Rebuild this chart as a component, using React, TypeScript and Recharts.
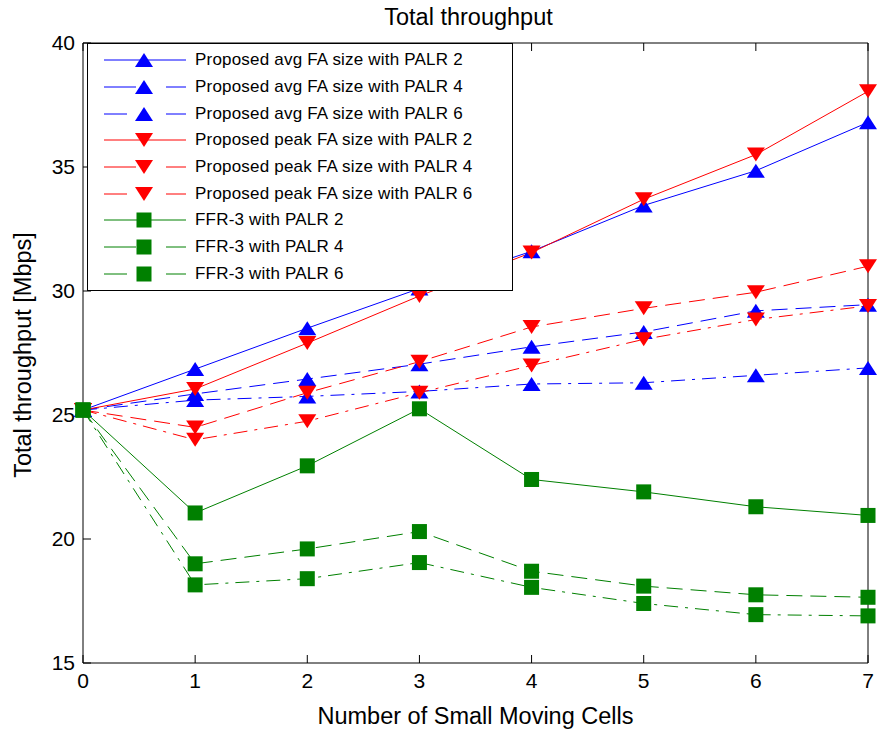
import React from 'react';
import { LineChart, Line, XAxis, YAxis, Legend } from 'recharts';

const xValues = [0, 1, 2, 3, 4, 5, 6, 7];
const xTicks = [0, 1, 2, 3, 4, 5, 6, 7];
const yTicks = [15, 20, 25, 30, 35, 40];

const avgPalr2 = [25.2, 26.85, 28.5, 30.1, 31.6, 33.45, 34.85, 36.8];
const avgPalr4 = [25.2, 25.85, 26.45, 27.05, 27.75, 28.35, 29.2, 29.45];
const avgPalr6 = [25.2, 25.6, 25.75, 25.95, 26.25, 26.3, 26.6, 26.9];
const peakPalr2 = [25.2, 26.05, 27.9, 29.8, 31.55, 33.7, 35.5, 38.05];
const peakPalr4 = [25.2, 24.5, 25.9, 27.15, 28.55, 29.3, 29.95, 31.0];
const peakPalr6 = [25.2, 24.0, 24.75, 25.9, 27.0, 28.05, 28.85, 29.4];
const ffrPalr2 = [25.2, 21.05, 22.95, 25.25, 22.4, 21.9, 21.3, 20.95];
const ffrPalr4 = [25.2, 19.0, 19.6, 20.3, 18.7, 18.1, 17.75, 17.65];
const ffrPalr6 = [25.2, 18.15, 18.4, 19.05, 18.05, 17.4, 16.95, 16.9];

const BLUE = '#0000ff';
const RED = '#ff0000';
const GREEN = '#008000';

type Shape = 'up' | 'down' | 'square';
type Dash = 'solid' | 'dash' | 'dashdot';

const series: { key: string; name: string; values: number[]; color: string; shape: Shape; dash: Dash }[] = [
  { key: 'avg2', name: 'Proposed avg FA size with PALR 2', values: avgPalr2, color: BLUE, shape: 'up', dash: 'solid' },
  { key: 'avg4', name: 'Proposed avg FA size with PALR 4', values: avgPalr4, color: BLUE, shape: 'up', dash: 'dash' },
  { key: 'avg6', name: 'Proposed avg FA size with PALR 6', values: avgPalr6, color: BLUE, shape: 'up', dash: 'dashdot' },
  { key: 'peak2', name: 'Proposed peak FA size with PALR 2', values: peakPalr2, color: RED, shape: 'down', dash: 'solid' },
  { key: 'peak4', name: 'Proposed peak FA size with PALR 4', values: peakPalr4, color: RED, shape: 'down', dash: 'dash' },
  { key: 'peak6', name: 'Proposed peak FA size with PALR 6', values: peakPalr6, color: RED, shape: 'down', dash: 'dashdot' },
  { key: 'ffr2', name: 'FFR-3 with PALR 2', values: ffrPalr2, color: GREEN, shape: 'square', dash: 'solid' },
  { key: 'ffr4', name: 'FFR-3 with PALR 4', values: ffrPalr4, color: GREEN, shape: 'square', dash: 'dash' },
  { key: 'ffr6', name: 'FFR-3 with PALR 6', values: ffrPalr6, color: GREEN, shape: 'square', dash: 'dashdot' },
];

const data = xValues.map((x, i) => {
  const row: Record<string, number> = { x };
  series.forEach(s => {
    row[s.key] = s.values[i];
  });
  return row;
});

const dashArray = (d: Dash) => (d === 'dash' ? '16 8' : d === 'dashdot' ? '14 7 3 7' : undefined);

const marker = (shape: Shape, color: string, cx: number, cy: number, key?: React.Key) => {
  if (shape === 'up') {
    return <polygon key={key} points={`${cx},${cy - 7} ${cx + 9},${cy + 7} ${cx - 9},${cy + 7}`} fill={color} />;
  }
  if (shape === 'down') {
    return <polygon key={key} points={`${cx - 9},${cy - 7} ${cx + 9},${cy - 7} ${cx},${cy + 7}`} fill={color} />;
  }
  return <rect key={key} x={cx - 7.5} y={cy - 7.5} width={15} height={15} fill={color} />;
};

const makeDot = (shape: Shape, color: string) => (props: any) => {
  const { cx, cy, index } = props;
  if (cx == null || cy == null) return <g key={index} />;
  return marker(shape, color, cx, cy, index);
};

const LegendBox = () => (
  <div
    style={{
      boxSizing: 'border-box',
      width: 426,
      height: 248,
      border: '1px solid #000',
      background: '#fff',
      paddingTop: 3,
    }}
  >
    {series.map(s => (
      <div key={s.key} style={{ height: 26.7, display: 'flex', alignItems: 'center' }}>
        <svg width={107} height={26} style={{ flex: 'none' }}>
          {s.dash === 'solid' ? (
            <line x1={16} x2={98} y1={13} y2={13} stroke={s.color} strokeWidth={1} />
          ) : (
            <>
              <line x1={16} x2={s.dash === 'dash' ? 48 : 39} y1={13} y2={13} stroke={s.color} strokeWidth={1} />
              <line x1={78} x2={98} y1={13} y2={13} stroke={s.color} strokeWidth={1} />
            </>
          )}
          {marker(s.shape, s.color, 56, 13)}
        </svg>
        <span style={{ fontSize: 17, letterSpacing: 0.2, color: '#000', whiteSpace: 'nowrap' }}>{s.name}</span>
      </div>
    ))}
  </div>
);

const YTitle = (props: any) => {
  const vb = props.viewBox || { y: 43, height: 620 };
  const cx = 23;
  const cy = vb.y + vb.height / 2 + 2;
  return (
    <text
      x={cx}
      y={cy}
      transform={`rotate(-90 ${cx} ${cy})`}
      textAnchor="middle"
      dominantBaseline="central"
      fontSize={23.5}
      fill="#000"
    >
      Total throughput [Mbps]
    </text>
  );
};

const axisStroke = { stroke: '#000' };

const App: React.FC = () => (
  <div
    style={{
      position: 'absolute',
      left: 0,
      top: 0,
      width: 879,
      height: 733,
      background: '#fff',
      fontFamily: '"Liberation Sans", Arial, sans-serif',
    }}
  >
    <LineChart width={879} height={733} data={data} margin={{ top: 42, right: 10, bottom: 0, left: 0 }}>
      <XAxis
        xAxisId="b"
        dataKey="x"
        type="number"
        domain={[0, 7]}
        ticks={xTicks}
        height={70}
        tickSize={-8}
        tickMargin={18}
        axisLine={axisStroke}
        tickLine={axisStroke}
        tick={{ fill: '#000', fontSize: 21 }}
        label={{ value: 'Number of Small Moving Cells', position: 'insideBottom', offset: 9, fontSize: 23.5, fill: '#000' }}
      />
      <XAxis
        xAxisId="t"
        orientation="top"
        dataKey="x"
        type="number"
        domain={[0, 7]}
        ticks={xTicks}
        height={1}
        tickSize={-8}
        tickFormatter={() => ''}
        axisLine={axisStroke}
        tickLine={axisStroke}
        label={{ value: 'Total throughput', position: 'top', offset: 17, fontSize: 23.5, fill: '#000', dx: -7 }}
      />
      <YAxis
        yAxisId="l"
        type="number"
        domain={[15, 40]}
        ticks={yTicks}
        width={83}
        tickSize={-8}
        tickMargin={16}
        axisLine={axisStroke}
        tickLine={axisStroke}
        tick={{ fill: '#000', fontSize: 21 }}
        label={<YTitle />}
      />
      <YAxis
        yAxisId="r"
        orientation="right"
        type="number"
        domain={[15, 40]}
        ticks={yTicks}
        width={1}
        tickSize={-8}
        tickFormatter={() => ''}
        axisLine={axisStroke}
        tickLine={axisStroke}
      />
      {series.map(s => (
        <Line
          key={s.key}
          xAxisId="b"
          yAxisId="l"
          dataKey={s.key}
          name={s.name}
          type="linear"
          stroke={s.color}
          strokeWidth={1}
          strokeDasharray={dashArray(s.dash)}
          dot={makeDot(s.shape, s.color)}
          activeDot={false}
          isAnimationActive={false}
        />
      ))}
      <Legend
        layout="vertical"
        align="center"
        verticalAlign="middle"
        content={<LegendBox />}
        wrapperStyle={{ left: 87, top: 43, width: 426, height: 248 }}
      />
    </LineChart>
  </div>
);

export default App;
